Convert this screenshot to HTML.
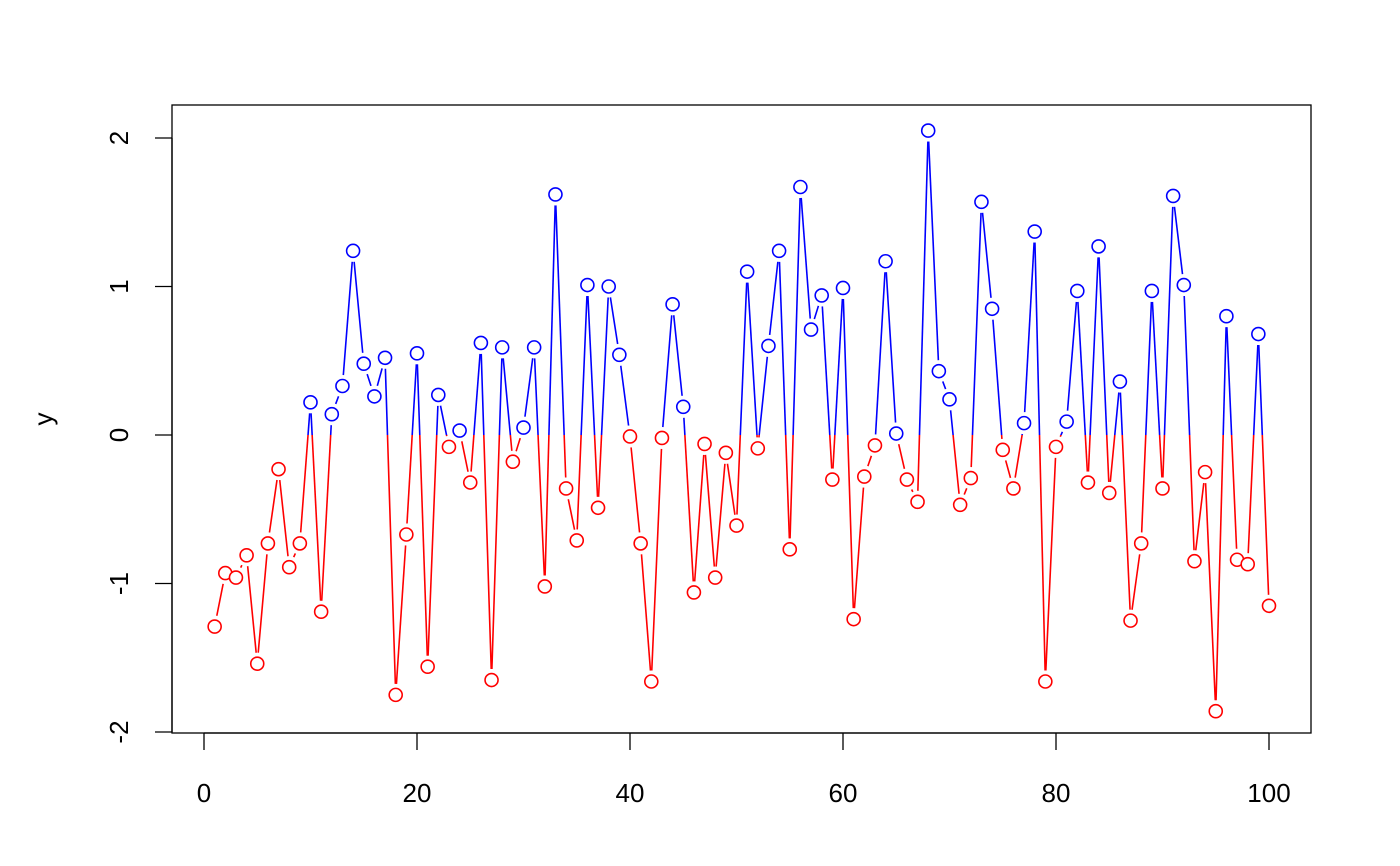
<!DOCTYPE html>
<html><head><meta charset="utf-8">
<style>
html,body{margin:0;padding:0;background:#fff;width:1400px;height:866px;overflow:hidden}
svg text{font-family:"Liberation Sans",sans-serif;font-size:26px;fill:#000}
</style></head>
<body>
<svg id="chart" width="1400" height="866">
<defs>
<clipPath id="above"><rect x="0" y="0" width="1400" height="435"/></clipPath>
<clipPath id="below"><rect x="0" y="435" width="1400" height="431"/></clipPath>
</defs>
<rect x="172" y="105" width="1139" height="628" fill="none" stroke="#000" stroke-width="1.3"/>
<g id="xaxis"></g>
<g id="yaxis"></g>
<g id="linesBlue" clip-path="url(#above)"></g>
<g id="linesRed" clip-path="url(#below)"></g>
<g id="pts"></g>
<text x="741" y="880" text-anchor="middle">x</text>
<text transform="translate(52,419) rotate(-90)" text-anchor="middle">y</text>
</svg>
<script>
const xs = Array.from({length:100},(_,i)=>i+1);
const ys = [-1.29,-0.93,-0.96,-0.81,-1.54,-0.73,-0.23,-0.89,-0.73,0.22,
-1.19,0.14,0.33,1.24,0.48,0.26,0.52,-1.75,-0.67,0.55,
-1.56,0.27,-0.08,0.03,-0.32,0.62,-1.65,0.59,-0.18,0.05,
0.59,-1.02,1.62,-0.36,-0.71,1.01,-0.49,1.00,0.54,-0.01,
-0.73,-1.66,-0.02,0.88,0.19,-1.06,-0.06,-0.96,-0.12,-0.61,
1.10,-0.09,0.60,1.24,-0.77,1.67,0.71,0.94,-0.30,0.99,
-1.24,-0.28,-0.07,1.17,0.01,-0.30,-0.45,2.05,0.43,0.24,
-0.47,-0.29,1.57,0.85,-0.10,-0.36,0.08,1.37,-1.66,-0.08,
0.09,0.97,-0.32,1.27,-0.39,0.36,-1.25,-0.73,0.97,-0.36,
1.61,1.01,-0.85,-0.25,-1.86,0.80,-0.84,-0.87,0.68,-1.15];
const xTicks = [0,20,40,60,80,100];
const yTicks = [-2,-1,0,1,2];

const NS="http://www.w3.org/2000/svg";
const sx = v => 204 + v*10.65;
const sy = v => 435 - v*148.5;
function mk(tag, attrs, parent){const e=document.createElementNS(NS,tag);for(const k in attrs)e.setAttribute(k,attrs[k]);parent.appendChild(e);return e;}

const xa=document.getElementById('xaxis');
mk('line',{x1:sx(xTicks[0]),x2:sx(xTicks[xTicks.length-1]),y1:733,y2:733,stroke:'#000','stroke-width':1.3},xa);
xTicks.forEach(t=>{
  const l=mk('line',{x1:sx(t),x2:sx(t),y1:733,y2:750,stroke:'#000','stroke-width':1.3},xa);
  
  
  const tx=mk('text',{x:sx(t),y:802,'text-anchor':'middle'},xa);tx.textContent=t;
  
  
});
const ya=document.getElementById('yaxis');
mk('line',{x1:172,x2:172,y1:sy(yTicks[0]),y2:sy(yTicks[yTicks.length-1]),stroke:'#000','stroke-width':1.3},ya);
yTicks.forEach(t=>{
  const l=mk('line',{x1:155,x2:172,y1:sy(t),y2:sy(t),stroke:'#000','stroke-width':1.3},ya);
  
  
  const tx=mk('text',{transform:`translate(128,${sy(t)}) rotate(-90)`,'text-anchor':'middle'},ya);tx.textContent=t;
  
  
});

const lb=document.getElementById('linesBlue'), lr=document.getElementById('linesRed'), pg=document.getElementById('pts');
const gap=11;
for(let i=0;i<xs.length-1;i++){
  const x1=sx(xs[i]),y1=sy(ys[i]),x2=sx(xs[i+1]),y2=sy(ys[i+1]);
  const d=Math.hypot(x2-x1,y2-y1); if(d<=2*gap) continue;
  const ux=(x2-x1)/d, uy=(y2-y1)/d;
  const a={x1:x1+ux*gap,y1:y1+uy*gap,x2:x2-ux*gap,y2:y2-uy*gap,'stroke-width':1.6};
  const b=mk('line',Object.assign({stroke:'#0000ff'},a),lb);
  
  
  const r=mk('line',Object.assign({stroke:'#ff0000'},a),lr);
  
  
}
xs.forEach((x,i)=>{
  const c=mk('circle',{cx:sx(x),cy:sy(ys[i]),r:6.5,fill:'#fff',stroke:ys[i]>=0?'#0000ff':'#ff0000','stroke-width':1.6},pg);
  
  
});
</script>
</body></html>
